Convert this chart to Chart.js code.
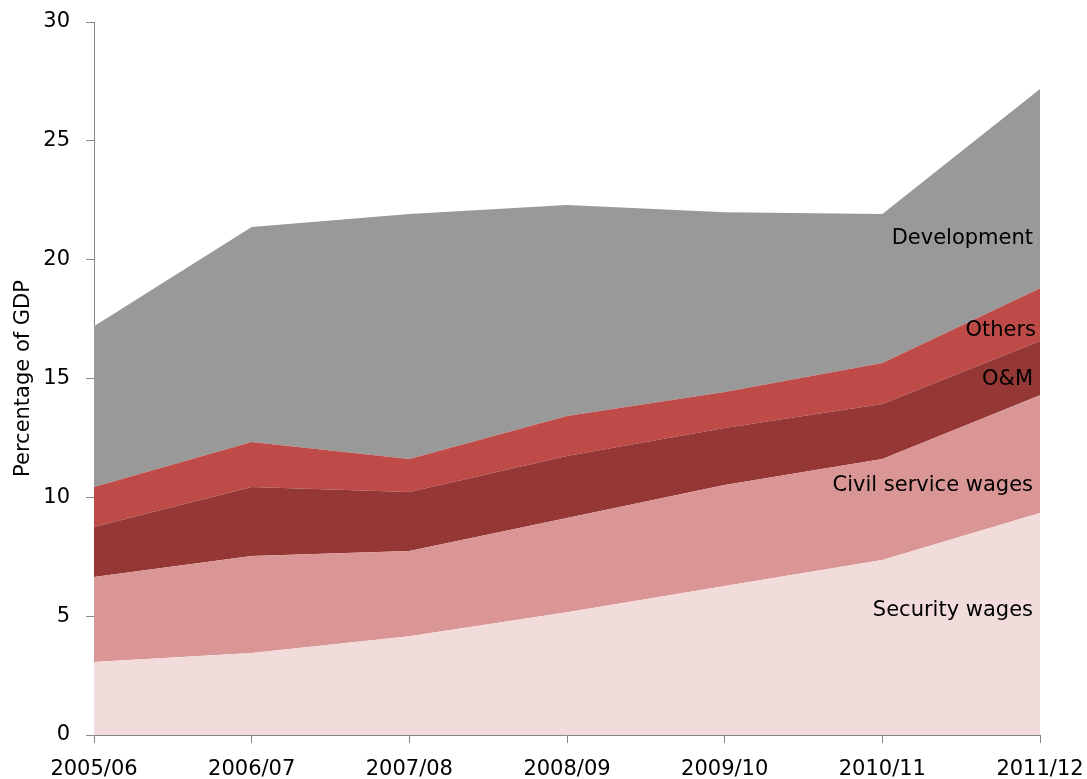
<!DOCTYPE html>
<html><head><meta charset="utf-8">
<script src="https://cdn.jsdelivr.net/npm/chart.js@4"></script>
<style>html,body{margin:0;padding:0;background:#fff}#w{width:1087px;height:779px}</style>
</head><body><div id="w"><canvas id="c"></canvas></div>
<script>
const categories = ["2005/06","2006/07","2007/08","2008/09","2009/10","2010/11","2011/12"];
const securityWages = [3.07, 3.45, 4.16, 5.17, 6.27, 7.36, 9.34];
const civilServiceWages = [3.58, 4.08, 3.58, 3.96, 4.25, 4.25, 4.96];
const oAndM = [2.10, 2.90, 2.48, 2.61, 2.40, 2.32, 2.28];
const others = [1.68, 1.90, 1.39, 1.68, 1.51, 1.72, 2.22];
const development = [6.77, 9.04, 10.31, 8.88, 7.57, 6.27, 8.38];
const seriesNames = ["Security wages","Civil service wages","O&M","Others","Development"];
const seriesColors = ["#F2DCDB","#D99694","#953735","#BE4B48","#999999"];
const labelValues = [5.25, 10.5, 14.95, 17.02, 20.9];
const labelShift = [0, 0, 0, 3, 0];
const yTicks = [0,5,10,15,20,25,30];

const FONT = 'DejaVu Sans';
const seriesData = [securityWages, civilServiceWages, oAndM, others, development];
const datasets = seriesData.map((d,i)=>({
  label: seriesNames[i], data: d, backgroundColor: seriesColors[i],
  borderWidth: 0, pointRadius: 0, fill: i===0 ? 'origin' : '-1', tension: 0
}));

const areaLabels = {
  id: 'areaLabels',
  afterDatasetsDraw(chart){
    const {ctx, scales:{x,y}} = chart;
    ctx.save();
    ctx.font = '21px "' + FONT + '"';
    ctx.fillStyle = '#000';
    ctx.textAlign = 'right';
    ctx.textBaseline = 'middle';
    const xr = x.getPixelForValue(categories.length-1) - 7;
    seriesNames.forEach((n,i)=>{
      ctx.fillText(n, xr + labelShift[i], y.getPixelForValue(labelValues[i]));
    });
    ctx.restore();
  }
};

new Chart(document.getElementById('c'), {
  type: 'line',
  data: { labels: categories, datasets },
  options: {
    responsive: true, maintainAspectRatio: false, animation: false,
    layout: { padding: { left: 0, top: 22, right: 47, bottom: 0 } },
    plugins: { legend: { display: false }, tooltip: { enabled: false } },
    elements: { line: { borderWidth: 0 } },
    scales: {
      x: {
        offset: false,
        grid: { display: true, drawOnChartArea: false, drawTicks: true, tickLength: 8, color: '#868686' },
        border: { color: '#868686', width: 1 },
        ticks: { color: '#000', font: { family: FONT, size: 21 }, maxRotation: 0, autoSkip: false, padding: 14 },
        afterFit(s){ s.height = 44; s.paddingLeft = 0; s.paddingRight = 0; }
      },
      y: {
        stacked: true, min: 0, max: 30,
        afterBuildTicks(s){ s.ticks = yTicks.map(v=>({value:v})); },
        grid: { display: true, drawOnChartArea: false, drawTicks: true, tickLength: 8, color: '#868686' },
        border: { color: '#868686', width: 1 },
        ticks: { color: '#000', font: { family: FONT, size: 21 }, padding: 16 },
        title: { display: true, text: 'Percentage of GDP', color: '#000', font: { family: FONT, size: 21 }, padding: { top: 11, bottom: 0 } },
        afterFit(s){ s.width = 94; s.paddingTop = 0; s.paddingBottom = 0; }
      }
    }
  },
  plugins: [areaLabels]
});
</script></body></html>
